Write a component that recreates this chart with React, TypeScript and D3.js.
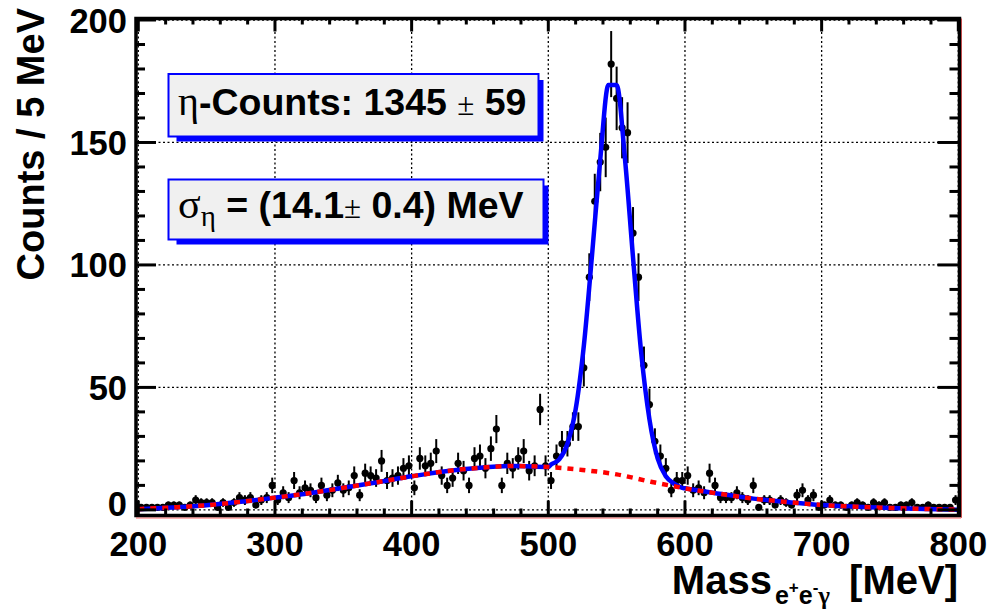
import React from "react";
import * as d3 from "d3";

// ---- data (4 MeV bins from 200 to 800 MeV) ----
const massLow = 200;
const binWidth = 4;
const counts = [
  1, 1, 1, 1, 1, 2, 2, 2, 1, 2,
  4, 3, 3, 3, 1, 3, 1, 3, 5, 4,
  5, 2, 4, 5, 10, 4, 7, 5, 12, 7,
  9, 8, 5, 10, 6, 8, 11, 8, 9, 14,
  6, 15, 14, 13, 20, 12, 13, 14, 17, 18,
  9, 21, 18, 19, 24, 14, 10, 13, 19, 16,
  10, 21, 22, 17, 25, 33, 10, 19, 17, 21,
  24, 16, 18, 41, 18, 12, 22, 27, 27, 34,
  34, 58, 95, 126, 142, 148, 182, 168, 156, 154,
  113, 95, 59, 43, 28, 22, 17, 8, 12, 12,
  14, 8, 9, 7, 15, 10, 5, 5, 5, 7,
  5, 4, 10, 1, 4, 4, 2, 4, 3, 2,
  6, 8, 4, 6, 1, 2, 4, 2, 2, 1,
  2, 3, 2, 1, 3, 2, 3, 1, 1, 2,
  2, 3, 1, 1, 2, 1, 1, 1, 1, 4,
];

// background fit (red dashed)
const bgMass = [200, 225, 250, 275, 300, 325, 350, 375, 400, 425, 450, 475, 500, 525, 550, 575, 600, 625, 650, 675, 700, 725, 750, 775, 800];
const bgValue = [0.3, 1.0, 1.9, 3.3, 5.0, 6.8, 9.0, 11.3, 13.7, 15.8, 17.2, 17.9, 17.5, 16.3, 14.5, 11.5, 8.8, 6.6, 4.6, 3.2, 2.0, 1.3, 0.8, 0.4, 0.1];

// total fit (signal + background, blue) in the peak region
const peakMass = [502, 508, 514, 520, 526, 532, 538, 544, 550, 556, 562, 568, 574, 580, 586, 592, 598];
const peakValue = [18.5, 20.6, 27, 41, 67, 104, 143, 173.5, 173.5, 144, 103, 64, 37, 21, 13.7, 10.7, 9.0];

const xTicks = [200, 300, 400, 500, 600, 700, 800];
const yTicks = [0, 50, 100, 150, 200];
const xTitle = "Mass";
const yTitle = "Counts / 5 MeV";
const box1 = { pre: "-Counts: 1345 ", post: " 59" };
const box2 = { pre: " = (14.1", post: " 0.4) MeV" };

const W = 994;
const H = 613;
const L = 136, R = 959.5, T = 18.5, B = 515.5;

const x = d3.scaleLinear().domain([200, 800]).range([138.3, 958.3]);
const y = d3.scaleLinear().domain([-2.5, 200]).range([516, 20]);

const sans = "'Liberation Sans', Arial, Helvetica, sans-serif";
const serif = "'Liberation Serif', 'DejaVu Serif', serif";

export default function App() {
  const points = counts.map((c, i) => ({ m: massLow + binWidth * (i + 0.5), c }));
  const bgPts = bgMass.map((m, i) => [m, bgValue[i]] as [number, number]);
  const bluePts: [number, number][] = [
    ...bgPts.filter((p) => p[0] <= 500),
    ...peakMass.map((m, i) => [m, peakValue[i]] as [number, number]),
    ...bgPts.filter((p) => p[0] >= 600),
  ];
  const line = d3
    .line<[number, number]>()
    .x((d) => x(d[0]))
    .y((d) => y(d[1]))
    .curve(d3.curveMonotoneX);

  const xMinor = d3.range(200, 801, 20);
  const yMinor = d3.range(0, 201, 10);

  const box = (x0: number, y0: number, x1: number, y1: number, key: string) => (
    <g key={key}>
      <rect x={x0 + 8} y={y0 + 6} width={x1 - x0 - 3} height={y1 - y0 - 1} fill="#0000ff" />
      <rect x={x0} y={y0} width={x1 - x0} height={y1 - y0} fill="#f0f0f0" stroke="#0000ff" strokeWidth={2} />
    </g>
  );

  return (
    <svg width={W} height={H} style={{ position: "absolute", left: 0, top: 0, background: "#fff" }}>
      {/* grid */}
      <g stroke="#000" strokeWidth={1.3} strokeDasharray="2,2.5">
        {xTicks.map((t) => (
          <line key={"gx" + t} x1={x(t)} x2={x(t)} y1={T} y2={B} />
        ))}
        {yTicks.map((t) => (
          <line key={"gy" + t} x1={L} x2={R} y1={y(t)} y2={y(t)} />
        ))}
      </g>

      {/* data points with error bars */}
      <g>
        {points.map((p, i) => {
          const e = Math.sqrt(p.c);
          return (
            <g key={"p" + i}>
              <line x1={x(p.m)} x2={x(p.m)} y1={y(p.c - e)} y2={y(p.c + e)} stroke="#000" strokeWidth={2} />
              <circle cx={x(p.m)} cy={y(p.c)} r={3.6} fill="#000" />
            </g>
          );
        })}
      </g>

      {/* fits */}
      <path d={line(bluePts) || ""} fill="none" stroke="#0000ff" strokeWidth={4.5} strokeLinejoin="miter" />
      <path d={line(bgPts) || ""} fill="none" stroke="#ff0000" strokeWidth={4.5} strokeDasharray="6,6" />

      {/* thin red histogram border */}
      <line x1={L} x2={R + 1.5} y1={B + 2.5} y2={B + 2.5} stroke="#ff0000" strokeWidth={1} opacity={0.6} />
      <line x1={R + 2} x2={R + 2} y1={T} y2={B + 2.5} stroke="#ff0000" strokeWidth={1} opacity={0.6} />

      {/* frame */}
      <rect x={L} y={T} width={R - L} height={B - T} fill="none" stroke="#000" strokeWidth={3.5} />

      {/* ticks */}
      <g stroke="#000" strokeWidth={3}>
        {xMinor.map((t) => {
          const major = t % 100 === 0;
          return (
            <g key={"tx" + t}>
              <line x1={x(t)} x2={x(t)} y1={B} y2={B - (major ? 15 : 7)} />
              <line x1={x(t)} x2={x(t)} y1={T} y2={T + (major ? 13 : 6)} />
            </g>
          );
        })}
        {yMinor.map((t) => {
          const major = t % 50 === 0;
          return (
            <g key={"ty" + t}>
              <line x1={L} x2={L + (major ? 20 : 9)} y1={y(t)} y2={y(t)} />
              <line x1={R} x2={R - (major ? 22 : 10)} y1={y(t)} y2={y(t)} />
            </g>
          );
        })}
      </g>

      {/* tick labels */}
      <g fontFamily={sans} fontWeight="bold" fontSize={34.5} fill="#000">
        {xTicks.map((t) => (
          <text key={"lx" + t} x={x(t)} y={555.5} textAnchor="middle">
            {t}
          </text>
        ))}
        {yTicks.map((t) => (
          <text key={"ly" + t} x={127} y={y(t) + (t === 0 ? 6 : 12.5)} textAnchor="end">
            {t}
          </text>
        ))}
      </g>

      {/* axis titles */}
      <text
        transform="translate(44,8) rotate(-90)"
        textAnchor="end"
        fontFamily={sans}
        fontWeight="bold"
        fontSize={38}
      >
        {yTitle}
      </text>
      <text x={958} y={594} textAnchor="end" fontFamily={sans} fontWeight="bold" fontSize={40} xmlSpace="preserve">
        {xTitle}
        <tspan fontSize={25} dy={10} dx={3}>e</tspan>
        <tspan fontSize={17} dy={-11}>+</tspan>
        <tspan fontSize={25} dy={11}>e</tspan>
        <tspan fontSize={17} dy={-11}>-</tspan>
        <tspan fontSize={25} dy={11} fontFamily={serif}>γ</tspan>
        <tspan fontSize={40} dy={-10} dx={8}>{" [MeV]"}</tspan>
      </text>

      {/* text boxes */}
      {box(168.5, 74, 538.5, 136.5, "b1")}
      <text x={178} y={115} fontFamily={sans} fontWeight="bold" fontSize={37.5} xmlSpace="preserve">
        <tspan fontFamily={serif} fontWeight="normal" fontSize={40}>η</tspan>
        {box1.pre}
        <tspan fontFamily={serif} fontWeight="normal" fontSize={31}>±</tspan>
        {box1.post}
      </text>
      {box(168.5, 179.5, 543.5, 239.5, "b2")}
      <text x={178} y={218} fontFamily={sans} fontWeight="bold" fontSize={37.5} xmlSpace="preserve">
        <tspan fontFamily={serif} fontWeight="normal" fontSize={42}>σ</tspan>
        <tspan fontFamily={serif} fontWeight="normal" fontSize={29} dy={8}>η</tspan>
        <tspan dy={-8}>{box2.pre}</tspan>
        <tspan fontFamily={serif} fontWeight="normal" fontSize={31}>±</tspan>
        {box2.post}
      </text>
    </svg>
  );
}
